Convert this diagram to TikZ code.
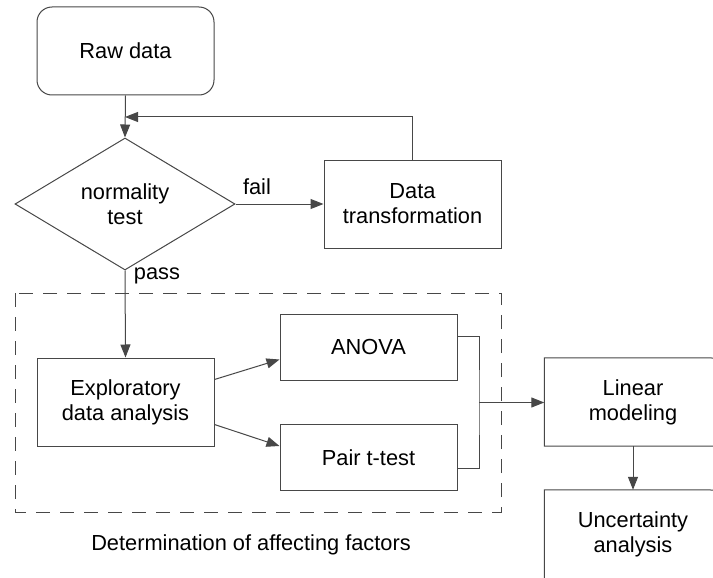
\documentclass[tikz,border=0pt]{standalone}
\usepackage{fontspec}
\setmainfont{Liberation Sans}
\usetikzlibrary{shapes.geometric,arrows.meta}
\tikzset{
  every node/.style={font=\fontsize{21.8}{25}\selectfont, text=black, align=center},
  ln/.style={draw=black!72, line width=1pt},
  box/.style={ln, rectangle, minimum width=177pt, minimum height=88pt, inner sep=0pt},
  openbox/.style={rectangle, minimum width=177pt, minimum height=88pt, inner sep=0pt},
  smallbox/.style={ln, rectangle, minimum width=177pt, minimum height=66pt, inner sep=0pt},
  decision/.style={ln, diamond, minimum width=220pt, minimum height=132pt, aspect=1.667, inner sep=0pt},
  arr/.style={ln, -{Triangle[length=13pt,width=10pt]}},
  conn/.style={ln},
  lbl/.style={inner sep=0pt},
}
\begin{document}
\begin{tikzpicture}[x=1pt,y=-1pt]
\path[use as bounding box] (0,0) rectangle (713,578);

% process nodes
\node[box, rounded corners=15pt] (raw) at (125.5,51) {Raw data};
\node[decision] (test) at (125,204) {normality\\test};
\node[box] (trans) at (412.5,204) {Data\\transformation};
\node[box] (eda) at (125.5,402) {Exploratory\\data analysis};
\node[smallbox] (anova) at (368.5,347) {ANOVA};
\node[smallbox] (pair) at (368.5,457.5) {Pair t-test};
\node[openbox] (lin) at (633,402) {Linear\\modeling};
\node[openbox] (unc) at (633,534) {Uncertainty\\analysis};

% frames of the two last steps, open where they leave the page
\coordinate (edgeA) at (713,358);
\coordinate (edgeB) at (713,446);
\coordinate (edgeC) at (713,490);
\draw[ln] (edgeA) -- (lin.north west) -- (lin.south west) -- (edgeB);
\draw[ln] (edgeC) -- (unc.north west) -- (unc.south west);

% dashed group frame and its caption
\draw[ln, dash pattern=on 14pt off 10pt] (15,293) rectangle (501,512);
\node[lbl] (cap) at (251,545) {Determination of affecting factors};

% branch labels
\node[lbl] (fail) at (257,187) {fail};
\node[lbl] (pass) at (157,276) {pass};

% flow
\draw[arr] (raw.south) -- (test.north);
\draw[arr] (test.east) -- (trans.west);
\coordinate (loopin) at (125,117);
\draw[arr] (trans.north) |- (loopin);
\draw[arr] (test.south) -- (eda.north);
\draw[arr] ([yshift=-22pt]eda.north east) -- ([yshift=21pt]anova.south west);
\draw[arr] ([yshift=22pt]eda.south east) -- ([yshift=-22pt]pair.north west);

% merge of the two tests into the model
\coordinate (ja) at ([yshift=-23pt]anova.north east);
\coordinate (jp) at ([yshift=23pt]pair.south east);
\coordinate (jm) at (479,402.5);
\draw[conn] (ja) -| (jm) |- (jp);
\draw[arr] (jm) -- (lin.west |- jm);
\draw[arr] (lin.south) -- (unc.north);
\end{tikzpicture}
\end{document}
